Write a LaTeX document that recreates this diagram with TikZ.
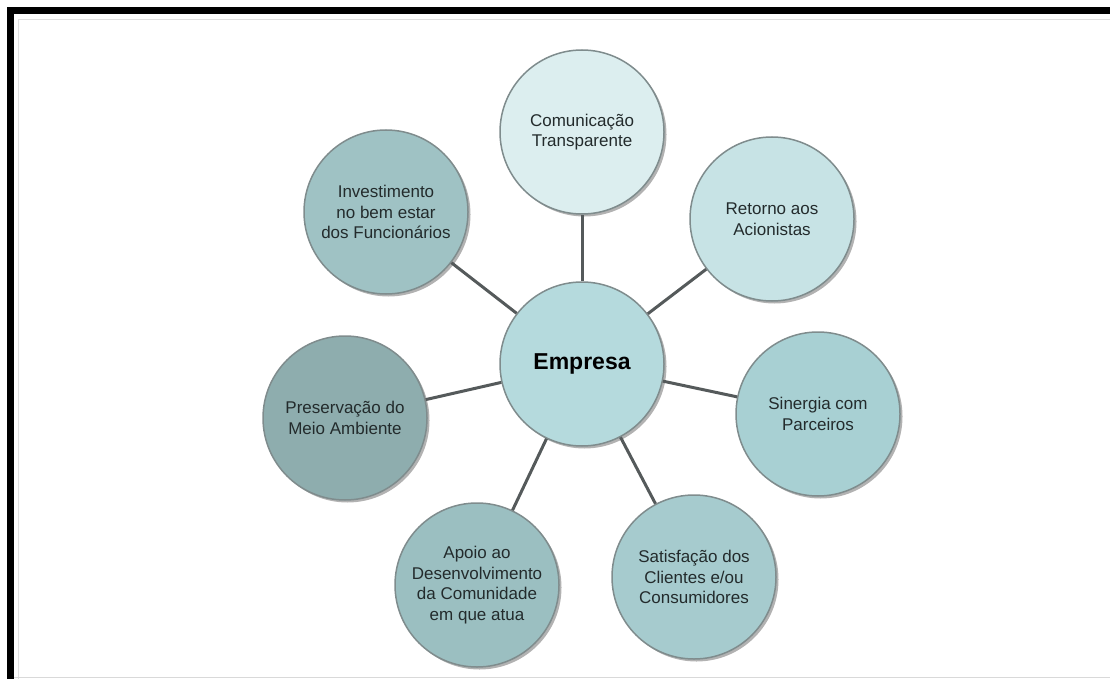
\documentclass[tikz,border=0pt]{standalone}
\usepackage{fontspec}
\setmainfont{Liberation Sans}
\usetikzlibrary{shadows}
\definecolor{bordergray}{HTML}{7F8C8D}
\definecolor{textgray}{HTML}{232B2C}
\definecolor{linkgray}{HTML}{555A5B}
\definecolor{cCom}{HTML}{DCEEEF}
\definecolor{cRet}{HTML}{C7E3E5}
\definecolor{cEmp}{HTML}{B5DADD}
\definecolor{cSin}{HTML}{A8D0D3}
\definecolor{cSat}{HTML}{A6CBCE}
\definecolor{cApo}{HTML}{9BBFC1}
\definecolor{cPre}{HTML}{8EADAE}
\definecolor{cInv}{HTML}{9FC2C4}
\begin{document}
\begin{tikzpicture}[x=1pt,y=-1pt,
  bubble/.style={circle, minimum size=164pt, inner sep=0pt, draw=bordergray,
    line width=1.5pt, align=center, text=textgray,
    font=\fontsize{17}{20.5}\selectfont,
    drop shadow={shadow xshift=2.5pt, shadow yshift=-2.5pt, fill=black, opacity=0.3}},
  link/.style={draw=linkgray, line width=3pt}]
\useasboundingbox (0,0) rectangle (1110,679);
% frame
\fill[black] (7,7) rectangle (1110,14);
\fill[black] (7,7) rectangle (14,679);
\draw[black!12, line width=1pt] (18,679) -- (18,20) -- (1110,20);
\draw[black!15, line width=1pt] (14,677) -- (1110,677);
% nodes
\node[bubble, fill=cEmp, text=black, font=\bfseries\fontsize{23}{27}\selectfont] (emp) at (582,364) {Empresa};
\node[bubble, fill=cCom] (com) at (582,132) {Comunicação\\Transparente};
\node[bubble, fill=cRet] (ret) at (772,219) {Retorno aos\\Acionistas};
\node[bubble, fill=cSin] (sin) at (818,414) {Sinergia com\\Parceiros};
\node[bubble, fill=cSat] (sat) at (694,577) {Satisfação dos\\Clientes e/ou\\Consumidores};
\node[bubble, fill=cApo] (apo) at (477,585) {Apoio ao\\Desenvolvimento\\da Comunidade\\em que atua};
\node[bubble, fill=cPre] (pre) at (345,418) {Preservação do\\Meio Ambiente};
\node[bubble, fill=cInv] (inv) at (386,212) {Investimento\\no bem estar\\dos Funcionários};
% connectors
\foreach \n in {com,ret,sin,sat,apo,pre,inv}
  \draw[link] (emp) -- (\n);
\end{tikzpicture}
\end{document}
